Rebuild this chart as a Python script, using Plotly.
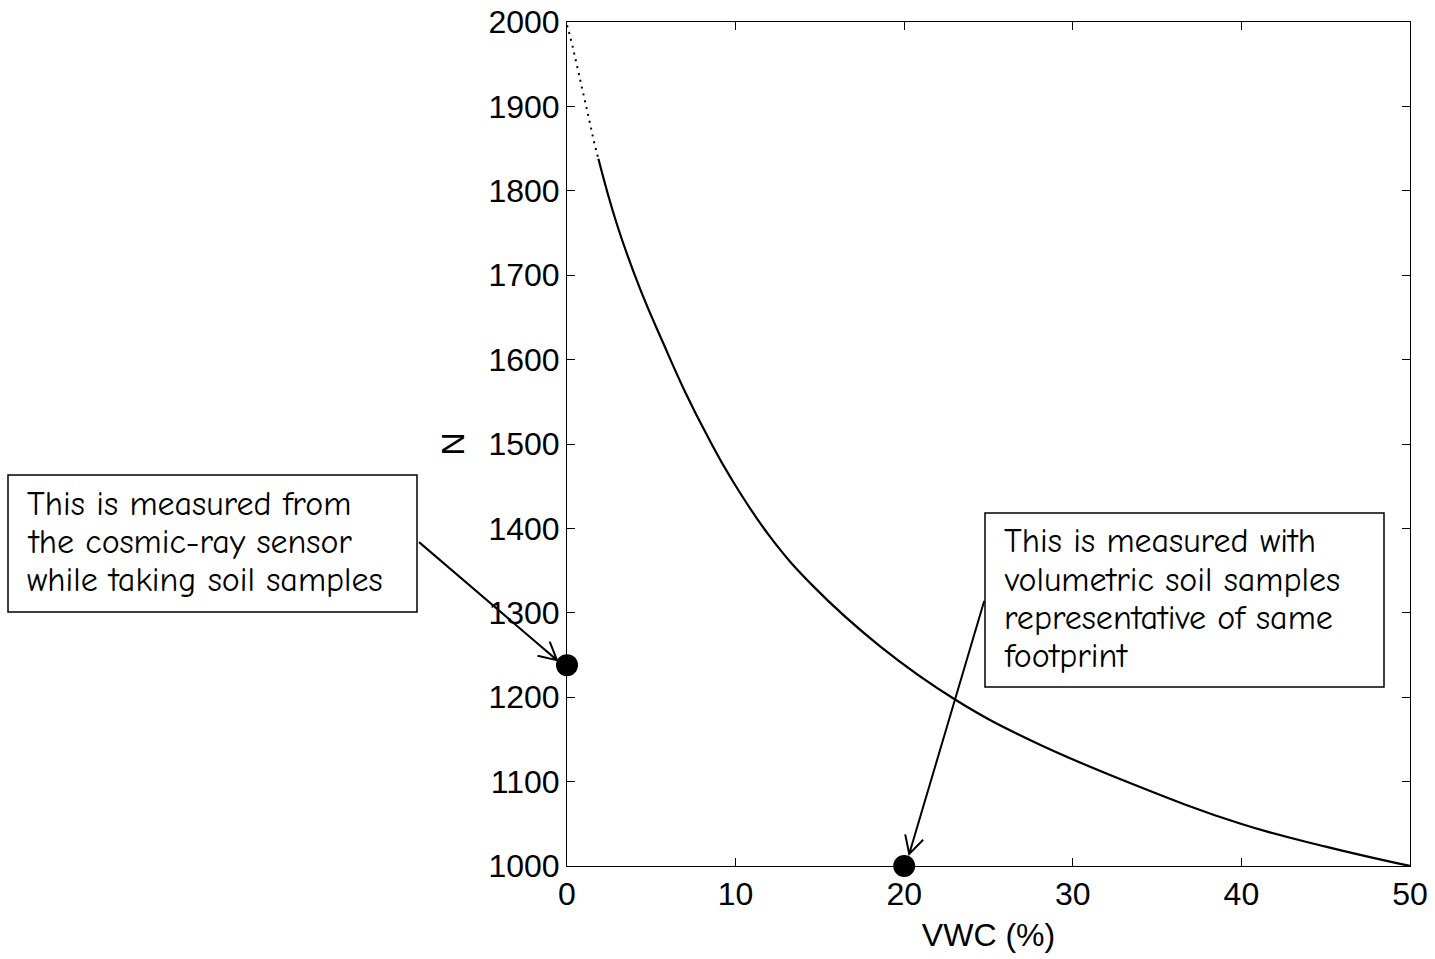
import numpy as np
import plotly.graph_objects as go

# Calibration curve: neutron count N versus volumetric water content (%)
vwc_extrap = [0.0, 0.08, 0.31, 0.51, 0.77, 1.03, 1.33, 1.60, 1.86]
n_extrap = [1996, 1991, 1973, 1956, 1931, 1908, 1883, 1858, 1838]

vwc_curve = [1.86, 2.95, 4.33, 5.72, 7.00, 8.39, 9.68, 12.05, 14.63, 18.59,
             23.04, 27.49, 33.43, 39.96, 45.0, 50.0]
n_curve = [1838, 1761, 1684, 1619, 1562, 1507, 1461, 1390, 1331, 1260,
           1197, 1149, 1098, 1050, 1023, 1000]

# Calibration points
sensor_vwc, sensor_n = 0.0, 1238      # count from the cosmic-ray sensor
sample_vwc, sample_n = 20.0, 1000     # VWC from soil samples

x_ticks = [0, 10, 20, 30, 40, 50]
y_ticks = [1000, 1100, 1200, 1300, 1400, 1500, 1600, 1700, 1800, 1900, 2000]

note_sensor = ["This is measured from", "the cosmic-ray sensor", "while taking soil samples"]
note_sample = ["This is measured with", "volumetric soil samples",
               "representative of same", "footprint"]

X_RANGE = [0, 50]
Y_RANGE = [1000, 2000]

AXIS_FONT = dict(family="Liberation Sans, Arial, sans-serif", size=32, color="black")
NOTE_FONT = dict(family="Comic Sans MS, Comic Neue, Lato, sans-serif", size=34, color="black")

# page geometry of the plotting area (pixels)
L, R, T, B = 567, 1410, 22, 866
W, H = 1435, 959


def px_to_paper(px, py):
    return (px - L) / (R - L), (B - py) / (B - T)


fig = go.Figure()

fig.add_trace(go.Scatter(
    x=vwc_extrap, y=n_extrap, mode="lines",
    line=dict(color="black", width=2, dash="2px,5px"),
    hoverinfo="skip", showlegend=False,
))
fig.add_trace(go.Scatter(
    x=vwc_curve, y=n_curve, mode="lines",
    line=dict(color="black", width=2.2, shape="spline", smoothing=1.2),
    showlegend=False,
))
fig.add_trace(go.Scatter(
    x=[sensor_vwc, sample_vwc], y=[sensor_n, sample_n], mode="markers",
    marker=dict(color="black", size=22, line=dict(width=0)),
    cliponaxis=False, showlegend=False,
))

axis_common = dict(
    showgrid=False, zeroline=False, showline=True, linecolor="black", linewidth=1,
    mirror="ticks", ticks="inside", ticklen=8, tickcolor="black", tickwidth=1,
    tickfont=AXIS_FONT, automargin=False,
)
fig.update_xaxes(range=X_RANGE, tickvals=x_ticks,
                 title=dict(text="VWC (%)", font=AXIS_FONT, standoff=12), **axis_common)
fig.update_yaxes(range=Y_RANGE, tickvals=y_ticks,
                 title=dict(text="N", font=AXIS_FONT, standoff=14), **axis_common)


def arrow_path(tail, tip, head_len=20, head_angle=28):
    """Open V arrow as a pixel path (offsets from anchor, y up)."""
    tx, ty = tail
    hx, hy = tip
    ang = np.arctan2(ty - hy, tx - hx)
    a = np.radians(head_angle)
    p1 = (hx + head_len * np.cos(ang + a), hy + head_len * np.sin(ang + a))
    p2 = (hx + head_len * np.cos(ang - a), hy + head_len * np.sin(ang - a))
    return (f"M {tx:.1f} {ty:.1f} L {hx:.1f} {hy:.1f} "
            f"M {p1[0]:.1f} {p1[1]:.1f} L {hx:.1f} {hy:.1f} L {p2[0]:.1f} {p2[1]:.1f}")


def to_paper_x(v):
    return (v - X_RANGE[0]) / (X_RANGE[1] - X_RANGE[0])


def to_paper_y(v):
    return (v - Y_RANGE[0]) / (Y_RANGE[1] - Y_RANGE[0])


arrow_style = dict(type="path", xref="paper", yref="paper", xsizemode="pixel", ysizemode="pixel",
                   line=dict(color="black", width=2))
fig.add_shape(path=arrow_path((-148, 123), (-10, 5)),
              xanchor=to_paper_x(sensor_vwc), yanchor=to_paper_y(sensor_n), **arrow_style)
fig.add_shape(path=arrow_path((80, 265), (5, 12)),
              xanchor=to_paper_x(sample_vwc), yanchor=to_paper_y(sample_n), **arrow_style)


def note_box(lines, box, text_left, line_centers):
    x0, y0 = px_to_paper(box[0], box[3])
    x1, y1 = px_to_paper(box[2], box[1])
    fig.add_shape(type="rect", xref="paper", yref="paper", x0=x0, y0=y0, x1=x1, y1=y1,
                  line=dict(color="black", width=1.5), fillcolor="white", layer="above")
    for line, yc in zip(lines, line_centers):
        xp, yp = px_to_paper(text_left, yc)
        fig.add_annotation(text=line, x=xp, y=yp, xref="paper", yref="paper",
                           xanchor="left", yanchor="middle", showarrow=False,
                           font=NOTE_FONT)


note_box(note_sensor, (8, 475, 417, 612), 25, [504, 542, 580])
note_box(note_sample, (985, 513, 1384, 687), 1002, [541, 580, 618, 656])

fig.update_layout(
    width=W, height=H,
    margin=dict(l=L, r=W - R, t=T, b=H - B),
    paper_bgcolor="white", plot_bgcolor="white",
    showlegend=False,
)

fig.write_html("out.html")
